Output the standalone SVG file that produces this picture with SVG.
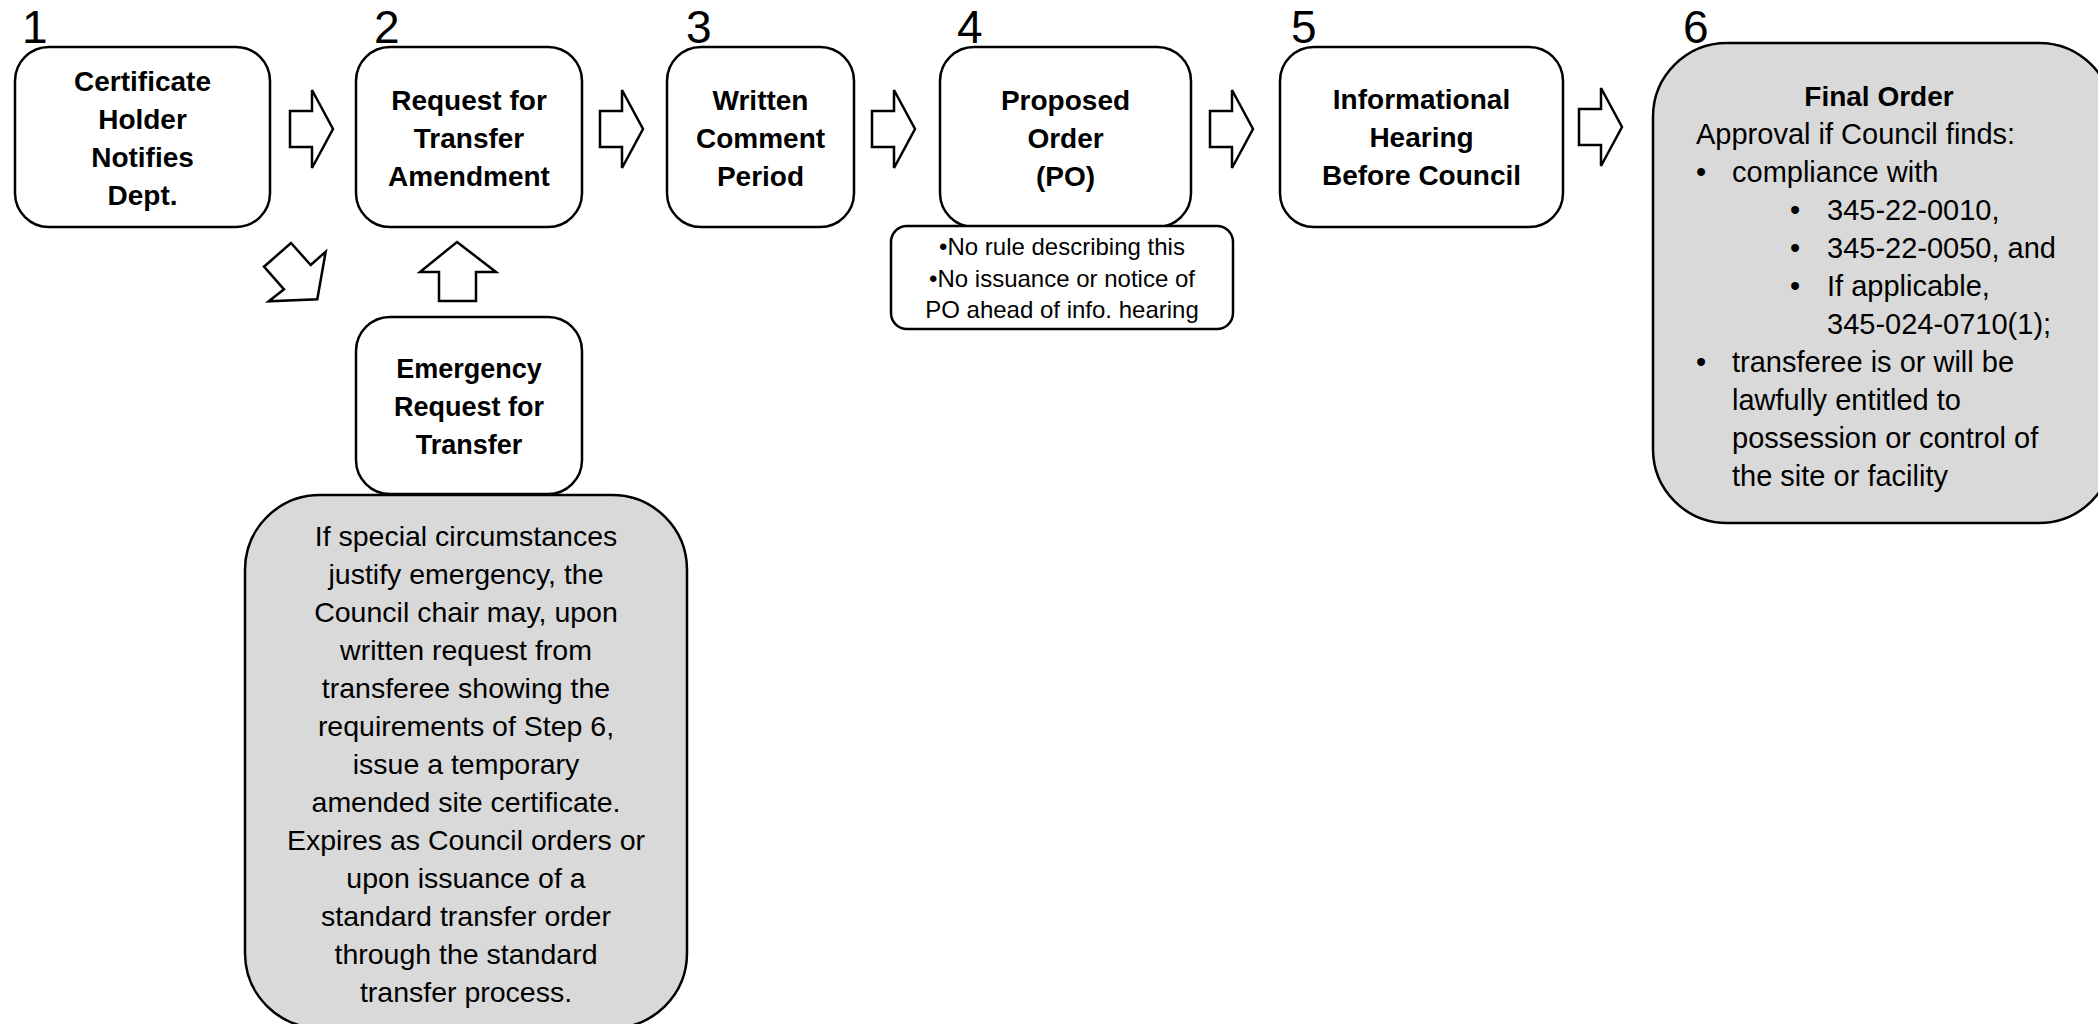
<svg xmlns="http://www.w3.org/2000/svg" width="2098" height="1024" viewBox="0 0 2098 1024">
<style>
.box{fill:#ffffff;stroke:#000000;stroke-width:2.5}
.gbox{fill:#d9d9d9;stroke:#000000;stroke-width:2.5}
.arr{fill:#ffffff;stroke:#000000;stroke-width:2.5;stroke-linejoin:miter}
.b{font-family:"Liberation Sans",Arial,sans-serif;font-weight:bold;font-size:28px;fill:#000;text-anchor:middle}
.num{font-family:"Liberation Sans",Arial,sans-serif;font-size:46px;fill:#000}
.t{font-family:"Liberation Sans",Arial,sans-serif;font-size:29px;fill:#000}
.c{font-family:"Liberation Sans",Arial,sans-serif;font-size:28.5px;fill:#000;text-anchor:middle}
.n{font-family:"Liberation Sans",Arial,sans-serif;font-size:24px;fill:#000;text-anchor:middle}
</style>
<rect width="2098" height="1024" fill="#ffffff"/>
<g id="labels">
<text class="num" x="22" y="43">1</text>
<text class="num" x="374" y="43">2</text>
<text class="num" x="686" y="43">3</text>
<text class="num" x="957" y="43">4</text>
<text class="num" x="1291" y="43">5</text>
<text class="num" x="1683" y="43">6</text>
</g>
<g id="connectors">
<path class="arr" d="M290,111 H312 V90 L333,129 L312,168 V147 H290 Z"/>
<path class="arr" d="M600,111 H622 V90 L643,129 L622,168 V147 H600 Z"/>
<path class="arr" d="M872,111 H894 V90 L915,129 L894,168 V147 H872 Z"/>
<path class="arr" d="M1210,111 H1232 V90 L1253,129 L1232,168 V147 H1210 Z"/>
<path class="arr" d="M1579,109 H1601 V88 L1622,127 L1601,166 V145 H1579 Z"/>
<path class="arr" d="M291,243 L310.7,265 L325.7,251.7 L317.3,299.3 L268.7,301.3 L284,289.3 L264,266.7 Z"/>
<path class="arr" d="M457,242 L496,272 H476 V301 H439 V272 H420 Z"/>
</g>
<g id="node1">
<rect class="box" x="15" y="47" width="255" height="180" rx="34" ry="34"/>
<text class="b" x="142.5" y="91">Certificate</text>
<text class="b" x="142.5" y="129">Holder</text>
<text class="b" x="142.5" y="167">Notifies</text>
<text class="b" x="142.5" y="205">Dept.</text>
</g>
<g id="node2">
<rect class="box" x="356" y="47" width="226" height="180" rx="34" ry="34"/>
<text class="b" x="469" y="110">Request for</text>
<text class="b" x="469" y="148">Transfer</text>
<text class="b" x="469" y="186">Amendment</text>
</g>
<g id="node3">
<rect class="box" x="667" y="47" width="187" height="180" rx="34" ry="34"/>
<text class="b" x="760.5" y="110">Written</text>
<text class="b" x="760.5" y="148">Comment</text>
<text class="b" x="760.5" y="186">Period</text>
</g>
<g id="node4">
<rect class="box" x="940" y="47" width="251" height="180" rx="34" ry="34"/>
<text class="b" x="1065.5" y="110">Proposed</text>
<text class="b" x="1065.5" y="148">Order</text>
<text class="b" x="1065.5" y="186">(PO)</text>
</g>
<g id="note4">
<rect class="box" x="891" y="226" width="342" height="103" rx="16" ry="16"/>
<text class="n" x="1062" y="255">•No rule describing this</text>
<text class="n" x="1062" y="287">•No issuance or notice of</text>
<text class="n" x="1062" y="318">PO ahead of info. hearing</text>
</g>
<g id="node5">
<rect class="box" x="1280" y="47" width="283" height="180" rx="34" ry="34"/>
<text class="b" x="1421.5" y="109">Informational</text>
<text class="b" x="1421.5" y="147">Hearing</text>
<text class="b" x="1421.5" y="185">Before Council</text>
</g>
<g id="node6">
<rect class="gbox" x="1653" y="43" width="460" height="480" rx="74" ry="74"/>
<text class="b" x="1879" y="106">Final Order</text>
<text class="t" x="1696" y="144">Approval if Council finds:</text>
<text class="t" x="1696" y="182">•</text>
<text class="t" x="1732" y="182">compliance with</text>
<text class="t" x="1790" y="220">•</text>
<text class="t" x="1827" y="220">345-22-0010,</text>
<text class="t" x="1790" y="258">•</text>
<text class="t" x="1827" y="258">345-22-0050, and</text>
<text class="t" x="1790" y="296">•</text>
<text class="t" x="1827" y="296">If applicable,</text>
<text class="t" x="1827" y="334">345-024-0710(1);</text>
<text class="t" x="1696" y="372">•</text>
<text class="t" x="1732" y="372">transferee is or will be</text>
<text class="t" x="1732" y="410">lawfully entitled to</text>
<text class="t" x="1732" y="448">possession or control of</text>
<text class="t" x="1732" y="486">the site or facility</text>
</g>
<g id="emergency">
<rect class="box" x="356" y="317" width="226" height="177" rx="34" ry="34"/>
<text class="b" x="469" y="378" style="font-size:27px">Emergency</text>
<text class="b" x="469" y="416" style="font-size:27px">Request for</text>
<text class="b" x="469" y="454" style="font-size:27px">Transfer</text>
</g>
<g id="emergency-detail">
<rect class="gbox" x="245" y="495" width="442" height="533" rx="75" ry="75"/>
<text class="c" x="466" y="546">If special circumstances</text>
<text class="c" x="466" y="584">justify emergency, the</text>
<text class="c" x="466" y="622">Council chair may, upon</text>
<text class="c" x="466" y="660">written request from</text>
<text class="c" x="466" y="698">transferee showing the</text>
<text class="c" x="466" y="736">requirements of Step 6,</text>
<text class="c" x="466" y="774">issue a temporary</text>
<text class="c" x="466" y="812">amended site certificate.</text>
<text class="c" x="466" y="850">Expires as Council orders or</text>
<text class="c" x="466" y="888">upon issuance of a</text>
<text class="c" x="466" y="926">standard transfer order</text>
<text class="c" x="466" y="964">through the standard</text>
<text class="c" x="466" y="1002">transfer process.</text>
</g>
</svg>
